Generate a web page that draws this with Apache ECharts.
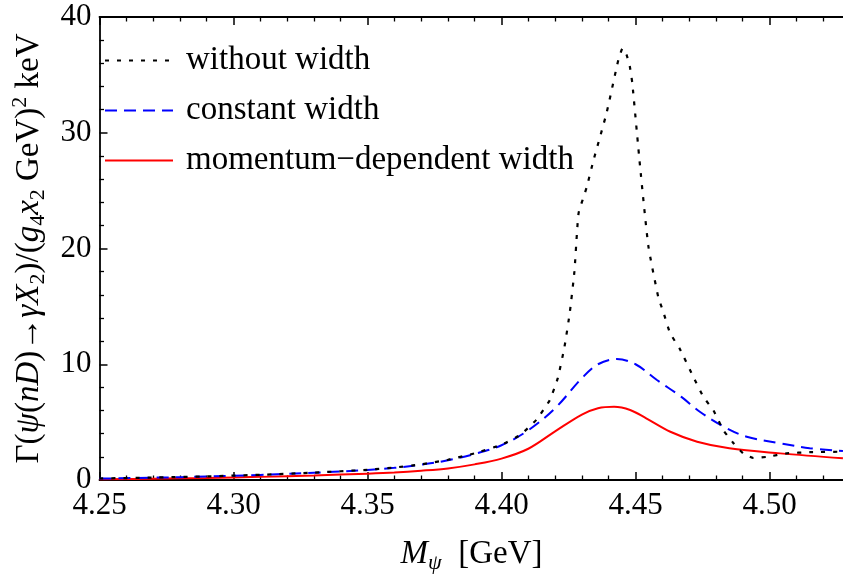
<!DOCTYPE html>
<html>
<head>
<meta charset="utf-8">
<script src="https://cdn.jsdelivr.net/npm/echarts@6/dist/echarts.min.js"></script>
<style>
  html, body { margin: 0; padding: 0; background: #fff; }
  #chart { width: 843px; height: 574px; }
</style>
</head>
<body>
<div id="chart"></div>
<script>
// Radiative width Γ(ψ(nD) → γX2) versus the ψ mass, three treatments of the width.

const seriesNames = ['without width', 'constant width', 'momentum\u2212dependent width'];

// without width (black, dotted)
const massNoWidth = [4.25, 4.27, 4.29, 4.31, 4.33, 4.35, 4.36, 4.37, 4.38, 4.39, 4.40, 4.407, 4.413, 4.418,
  4.421, 4.4235, 4.4255, 4.4272, 4.4282, 4.4288, 4.4318, 4.4343, 4.4392, 4.4436, 4.4452, 4.4467, 4.4479,
  4.4488, 4.4517, 4.4548, 4.4585, 4.4604, 4.4629, 4.4666, 4.4716, 4.4753, 4.4791, 4.4828, 4.4865, 4.4902,
  4.494, 4.499, 4.5064, 4.515, 4.5274];
const gammaNoWidth = [0.13, 0.21, 0.31, 0.45, 0.64, 0.88, 1.08, 1.35, 1.75, 2.3, 3.05, 3.9, 5.2, 6.9,
  8.8, 11.5, 14.5, 18.0, 21.5, 23.1, 25.3, 27.6, 31.7, 36.3, 37.3, 36.7, 35.7,
  34.3, 27.1, 20.2, 15.8, 14.5, 12.7, 11.3, 8.9, 7.2, 6.0, 4.3, 3.2, 2.3,
  1.9, 2.0, 2.3, 2.4, 2.45];

// constant width (blue, dashed)
const massConst = [4.25, 4.27, 4.29, 4.31, 4.33, 4.35, 4.36, 4.37, 4.38, 4.39, 4.40, 4.41, 4.42, 4.43,
  4.436, 4.443, 4.450, 4.458, 4.467, 4.474, 4.483, 4.4915, 4.504, 4.515, 4.5274];
const gammaConst = [0.12, 0.2, 0.3, 0.44, 0.63, 0.86, 1.05, 1.32, 1.7, 2.25, 3.0, 4.3, 6.2, 8.8,
  10.0, 10.45, 10.0, 8.64, 7.2, 5.9, 4.6, 3.74, 3.17, 2.75, 2.5];

// momentum-dependent width (red, solid)
const massMomentum = [4.25, 4.27, 4.29, 4.31, 4.33, 4.35, 4.36, 4.37, 4.38, 4.39, 4.40, 4.41, 4.42, 4.43,
  4.436, 4.442, 4.448, 4.454, 4.463, 4.473, 4.485, 4.504, 4.5274];
const gammaMomentum = [0.06, 0.11, 0.18, 0.27, 0.39, 0.55, 0.65, 0.8, 1.0, 1.35, 1.85, 2.7, 4.2, 5.65,
  6.2, 6.33, 6.05, 5.33, 4.17, 3.31, 2.74, 2.3, 1.87];

const xTicks = { min: 4.25, max: 4.55, step: 0.05 };
const yTicks = { min: 0, max: 40, step: 10 };

const pairs = (xs, ys) => xs.map((x, i) => [x, ys[i]]);

const FONT = "'Liberation Serif', 'Times New Roman', serif";
const INK = '#000';

const axisCommon = {
  type: 'value',
  axisLine: { show: true, onZero: false, lineStyle: { color: INK, width: 1.8 } },
  axisTick: { show: true, inside: true, length: 8, lineStyle: { color: INK, width: 1.5 } },
  minorTick: { show: true, splitNumber: 5, length: 4.5, lineStyle: { color: INK, width: 1.3 } },
  splitLine: { show: false },
  minorSplitLine: { show: false }
};

const xAxisBase = Object.assign({}, axisCommon, {
  min: xTicks.min, max: xTicks.max, interval: xTicks.step
});

const tokenBase = { fontFamily: FONT, fontSize: 33, color: INK, lineHeight: 40, verticalAlign: 'middle' };
const smallBase = { fontFamily: FONT, fontSize: 22, color: INK, lineHeight: 22 };
const richText = {
  r: Object.assign({}, tokenBase),
  i: Object.assign({}, tokenBase, { fontStyle: 'italic' }),
  sub: Object.assign({}, smallBase, { verticalAlign: 'bottom' }),
  subi: Object.assign({}, smallBase, { verticalAlign: 'bottom', fontStyle: 'italic' }),
  sup: Object.assign({}, smallBase, { verticalAlign: 'top' })
};

const chart = echarts.init(document.getElementById('chart'), null, { renderer: 'canvas' });

chart.setOption({
  animation: false,
  backgroundColor: '#fff',
  // the axis runs on past the right edge of the canvas, which cuts the frame at M ≈ 4.527
  grid: { left: 99.5, right: -60.5, top: 17, bottom: 94, containLabel: false, outerBoundsMode: 'none' },
  legend: {
    data: seriesNames,
    orient: 'vertical',
    left: 99,
    top: 39,
    itemWidth: 68,
    itemHeight: 14,
    itemGap: 17,
    selectedMode: false,
    itemStyle: { opacity: 0 },
    textStyle: { fontFamily: FONT, fontSize: 33, color: INK, padding: [0, 0, 0, 8] }
  },
  xAxis: [
    Object.assign({}, xAxisBase, {
      position: 'bottom',
      axisLabel: {
        show: true, margin: 10, fontFamily: FONT, fontSize: 31, color: INK,
        formatter: v => v.toFixed(2)
      },
      name: '{i|M}{subi|\u03C8}{r|  [GeV]}',
      nameLocation: 'middle',
      nameGap: 54,
      // centre the title under the visible part of the axis
      nameTextStyle: { rich: richText, padding: [0, 60, 0, 0] }
    }),
    Object.assign({}, xAxisBase, {
      position: 'top',
      axisLabel: { show: false }
    })
  ],
  yAxis: Object.assign({}, axisCommon, {
    min: yTicks.min, max: yTicks.max, interval: yTicks.step,
    axisLabel: { show: true, margin: 8, fontFamily: FONT, fontSize: 31, color: INK },
    name: '{r|\u0393(}{i|\u03C8}{r|(}{i|nD}{r|)\u2192}{i|\u03B3X}{sub|2}{r|)/(}{i|g}{sub|4}{i|x}{sub|2}{r| GeV)}{sup|2}{r| keV}',
    nameLocation: 'middle',
    nameRotate: 90,
    nameGap: 50,
    nameTextStyle: { rich: richText }
  }),
  series: [
    {
      name: seriesNames[0], type: 'line', xAxisIndex: 0, yAxisIndex: 0,
      data: pairs(massNoWidth, gammaNoWidth),
      showSymbol: false, symbol: 'none', smooth: 0.15,
      lineStyle: { color: '#000', width: 2.2, type: [4, 8], cap: 'butt' },
      itemStyle: { color: '#000' },
      z: 4
    },
    {
      name: seriesNames[1], type: 'line', xAxisIndex: 0, yAxisIndex: 0,
      data: pairs(massConst, gammaConst),
      showSymbol: false, symbol: 'none', smooth: 0.35,
      lineStyle: { color: '#0000ff', width: 2, type: [12, 7] },
      itemStyle: { color: '#0000ff' },
      z: 3
    },
    {
      name: seriesNames[2], type: 'line', xAxisIndex: 0, yAxisIndex: 0,
      data: pairs(massMomentum, gammaMomentum),
      showSymbol: false, symbol: 'none', smooth: 0.35,
      lineStyle: { color: '#ff0000', width: 2, type: 'solid' },
      itemStyle: { color: '#ff0000' },
      z: 2
    }
  ]
});
</script>
</body>
</html>
